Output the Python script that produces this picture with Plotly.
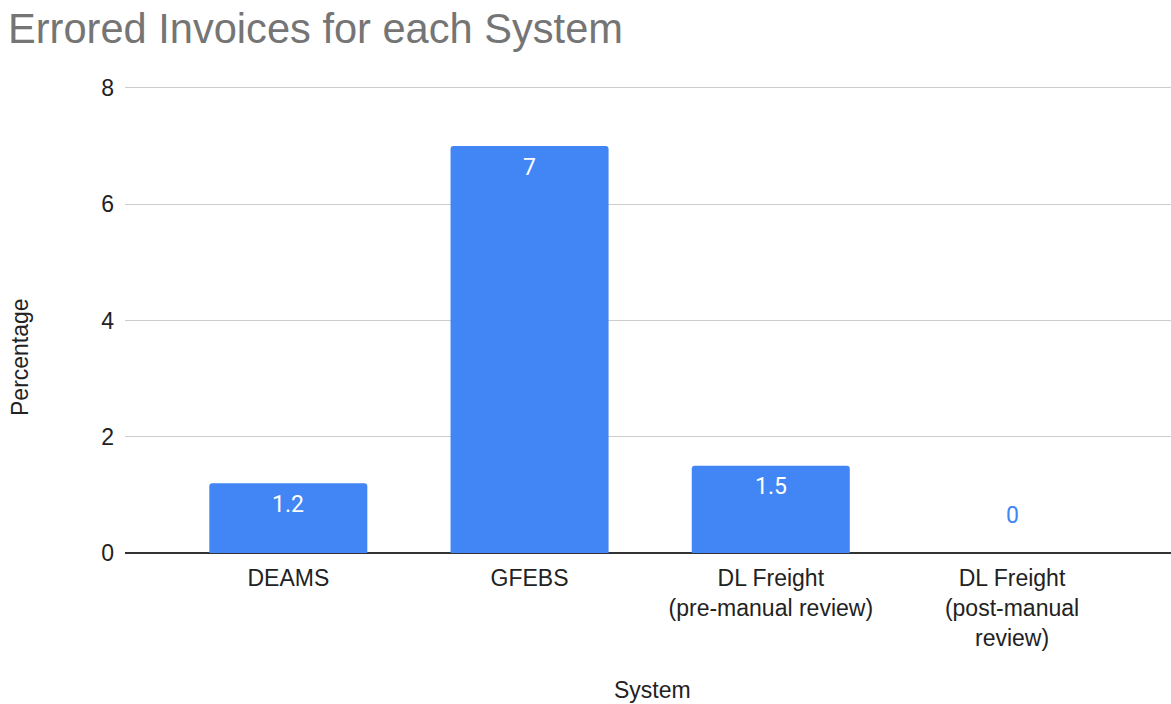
import plotly.graph_objects as go

# Error rates per invoicing system
systems = [
    "DEAMS",
    "GFEBS",
    "DL Freight<br>(pre-manual review)",
    "DL Freight<br>(post-manual<br>review)",
]
error_pct = [1.2, 7, 1.5, 0]
y_ticks = [0, 2, 4, 6, 8]

BLUE = "#4285F4"
W, H = 1171, 704
L, R, T, B = 125, 0, 85, 151

fig = go.Figure(
    go.Bar(
        x=systems,
        y=error_pct,
        marker=dict(color=BLUE, line=dict(width=0)),
        width=0.655,
        hoverinfo="x+y",
    )
)

# Value labels: white inside the bar top, blue above the baseline for empty bars
for cat, v in zip(systems, error_pct):
    if v > 0:
        fig.add_annotation(
            x=cat, y=v, text=f"{v:g}", showarrow=False,
            yanchor="middle", yshift=-21,
            font=dict(family="Roboto", size=23, color="white"),
        )
    else:
        fig.add_annotation(
            x=cat, y=v, text=f"{v:g}", showarrow=False,
            yanchor="middle", yshift=38,
            font=dict(family="Roboto", size=23, color=BLUE),
        )

plot_h = H - T - B
# Axis titles
fig.add_annotation(
    text="Percentage", xref="paper", yref="paper",
    x=-(L - 20) / (W - L - R), y=(H - B - 357) / plot_h,
    showarrow=False, textangle=-90, xanchor="center", yanchor="middle",
    font=dict(family="Liberation Sans, Arial", size=23, color="#222222"),
)
fig.add_annotation(
    text="System", xref="paper", yref="paper",
    x=(652 - L) / (W - L - R), y=-(690 - (H - B)) / plot_h,
    showarrow=False, xanchor="center", yanchor="middle",
    font=dict(family="Liberation Sans, Arial", size=23, color="#222222"),
)

fig.update_layout(
    width=W, height=H,
    margin=dict(l=L, r=R, t=T, b=B),
    paper_bgcolor="white", plot_bgcolor="white",
    barcornerradius=3,
    showlegend=False,
    title=dict(
        text="Errored Invoices for each System",
        x=8 / W, xanchor="left", xref="container",
        y=1 - 28 / H, yanchor="middle", yref="container",
        font=dict(family="Liberation Sans, Arial", size=41.6, color="#757575"),
    ),
    xaxis=dict(
        type="category",
        range=[-0.677, 3.659],
        showgrid=False, showline=False, zeroline=False,
        ticks="", ticklabelstandoff=9,
        tickfont=dict(family="Liberation Sans, Arial", size=23, color="#222222"),
    ),
    yaxis=dict(
        range=[0, 8.05],
        tickvals=y_ticks,
        showgrid=True, gridcolor="#cccccc", gridwidth=1.3,
        zeroline=True, zerolinecolor="#333333", zerolinewidth=1.6,
        showline=False, ticks="",
        ticklabelstandoff=10,
        tickfont=dict(family="Liberation Sans, Arial", size=23, color="#222222"),
    ),
)

fig.write_html("out.html")
